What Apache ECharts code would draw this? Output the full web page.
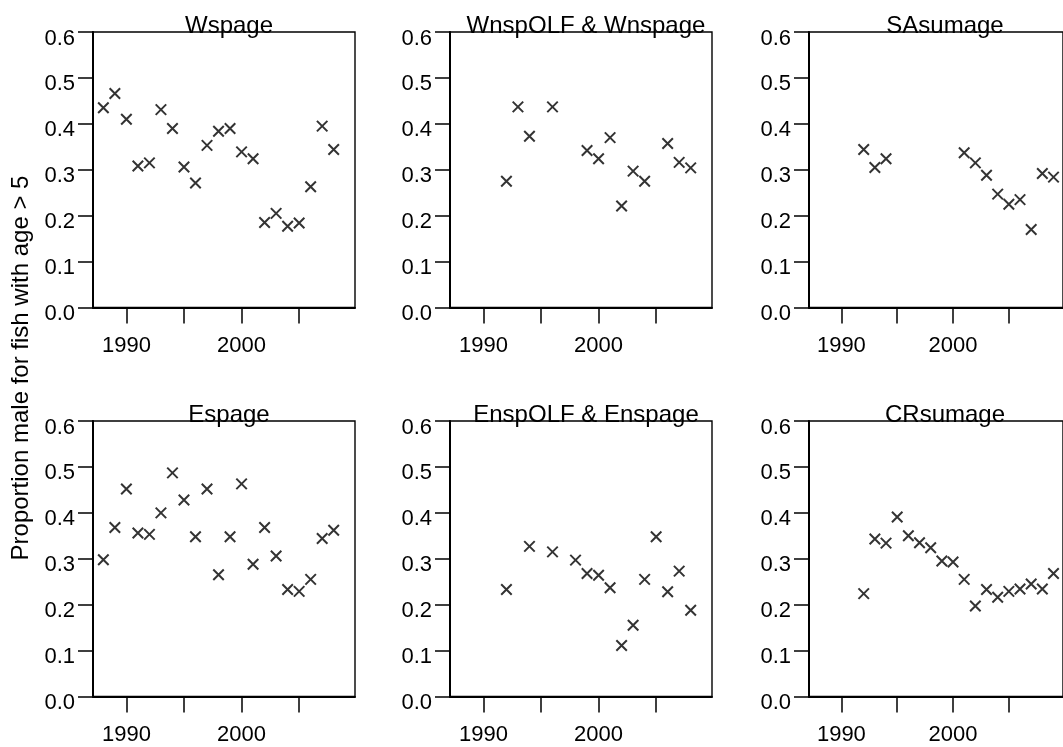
<!DOCTYPE html>
<html>
<head>
<meta charset="utf-8">
<script src="https://cdn.jsdelivr.net/npm/echarts@6/dist/echarts.min.js"></script>
<style>
html,body{margin:0;padding:0;background:#fff;}
#chart{width:1063px;height:747px;}
</style>
</head>
<body>
<div id="chart"></div>
<script>
// ---- data ----
const panelTitles = ['Wspage', 'WnspOLF & Wnspage', 'SAsumage', 'Espage', 'EnspOLF & Enspage', 'CRsumage'];
const yAxisTitle = 'Proportion male for fish with age > 5';
const xTickValues = [1990, 1995, 2000, 2005];
const xLabelValues = [1990, 2000];

const wspageYears  = [1988,1989,1990,1991,1992,1993,1994,1995,1996,1997,1998,1999,2000,2001,2002,2003,2004,2005,2006,2007,2008];
const wspageValues = [0.435,0.466,0.410,0.308,0.315,0.431,0.390,0.306,0.271,0.353,0.384,0.390,0.339,0.324,0.185,0.205,0.177,0.184,0.263,0.395,0.344];

const wnspYears  = [1992,1993,1994,1996,1999,2000,2001,2002,2003,2004,2006,2007,2008];
const wnspValues = [0.275,0.437,0.373,0.437,0.342,0.324,0.370,0.221,0.297,0.275,0.357,0.316,0.304];

const sasumYears  = [1992,1993,1994,2001,2002,2003,2004,2005,2006,2007,2008,2009];
const sasumValues = [0.344,0.305,0.324,0.337,0.315,0.288,0.247,0.225,0.235,0.170,0.292,0.284];

const espageYears  = [1988,1989,1990,1991,1992,1993,1994,1995,1996,1997,1998,1999,2000,2001,2002,2003,2004,2005,2006,2007,2008];
const espageValues = [0.298,0.368,0.452,0.356,0.353,0.400,0.487,0.428,0.348,0.452,0.265,0.348,0.463,0.288,0.368,0.306,0.233,0.229,0.255,0.344,0.362];

const enspYears  = [1992,1994,1996,1998,1999,2000,2001,2002,2003,2004,2005,2006,2007,2008];
const enspValues = [0.233,0.327,0.315,0.297,0.268,0.264,0.237,0.111,0.155,0.255,0.348,0.228,0.273,0.188];

const crsumYears  = [1992,1993,1994,1995,1996,1997,1998,1999,2000,2001,2002,2003,2004,2005,2006,2007,2008,2009];
const crsumValues = [0.224,0.343,0.334,0.391,0.350,0.335,0.324,0.295,0.293,0.255,0.197,0.233,0.216,0.229,0.234,0.245,0.234,0.268];

const panelYears  = [wspageYears, wnspYears, sasumYears, espageYears, enspYears, crsumYears];
const panelValues = [wspageValues, wnspValues, sasumValues, espageValues, enspValues, crsumValues];

// ---- layout ----
const FONT = '"Liberation Sans", Arial, Helvetica, sans-serif';
const colLefts = [93, 450, 809];
const rowTops = [32, 421];
const gridW = 262, gridH = 275.5;

const grids = [], xAxes = [], yAxes = [], series = [], titles = [];
for (let i = 0; i < 6; i++) {
  const c = i % 3, r = Math.floor(i / 3);
  grids.push({
    left: colLefts[c], top: rowTops[r], width: gridW, height: gridH,
    show: true, borderColor: '#000', borderWidth: 1.4, backgroundColor: 'transparent',
    containLabel: false
  });
  xAxes.push({
    type: 'value', gridIndex: i, min: 1987.1, max: 2009.85,
    splitLine: { show: false },
    axisLine: { show: true, onZero: false, lineStyle: { color: '#000', width: 2 } },
    axisTick: { show: true, inside: false, length: 16, customValues: xTickValues, lineStyle: { color: '#000', width: 1.5 } },
    axisLabel: { show: true, customValues: xLabelValues, margin: 27, fontSize: 22, fontFamily: FONT, color: '#000',
                 formatter: v => String(v) }
  });
  yAxes.push({
    type: 'value', gridIndex: i, min: 0, max: 0.6, interval: 0.1,
    splitLine: { show: false },
    axisLine: { show: true, onZero: false, lineStyle: { color: '#000', width: 2 } },
    axisTick: { show: true, inside: false, length: 15, lineStyle: { color: '#000', width: 1.5 } },
    axisLabel: { show: true, margin: 18, fontSize: 22, fontFamily: FONT, color: '#000',
                 showMinLabel: true, showMaxLabel: true, verticalAlign: 'top', lineHeight: 13,
                 formatter: v => v.toFixed(1) }
  });
  const data = panelYears[i].map((yr, k) => [yr, panelValues[i][k]]);
  series.push({
    type: 'scatter', xAxisIndex: i, yAxisIndex: i, data: data,
    symbol: 'path://M0,0L10,10M0,10L10,0', symbolSize: [10.5, 10.5],
    itemStyle: { color: 'transparent', borderColor: '#000', borderWidth: 2 },
    emphasis: { disabled: true }, silent: true, clip: false
  });
  titles.push({
    text: panelTitles[i], left: colLefts[c] + gridW / 2, top: rowTops[r] - 23, textAlign: 'center',
    textStyle: { fontSize: 24, fontWeight: 'normal', fontFamily: FONT, color: '#000' }
  });
}

const chart = echarts.init(document.getElementById('chart'), null, { renderer: 'canvas' });
chart.setOption({
  animation: false,
  backgroundColor: '#fff',
  title: titles,
  grid: grids,
  xAxis: xAxes,
  yAxis: yAxes,
  series: series,
  graphic: [{
    type: 'text', x: 21, y: 368, rotation: Math.PI / 2,
    style: { text: yAxisTitle, fontSize: 24, fontFamily: FONT, fill: '#000', align: 'center', verticalAlign: 'middle' }
  }]
});
</script>
</body>
</html>
